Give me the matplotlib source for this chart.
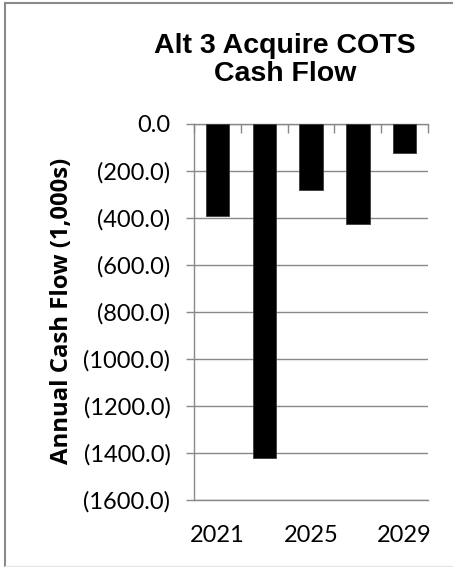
import matplotlib
matplotlib.use("Agg")
import matplotlib.pyplot as plt
from matplotlib.lines import Line2D
import numpy as np

# Data
years = ["2021", "2023", "2025", "2027", "2029"]
cash_flow = [-391.0, -1421.0, -281.0, -425.0, -122.0]
shown_year_labels = ["2021", "", "2025", "", "2029"]
y_ticks = [0, -200, -400, -600, -800, -1000, -1200, -1400, -1600]

W, H = 453, 567
fig = plt.figure(figsize=(W / 100, H / 100), dpi=100)
fig.patch.set_facecolor("white")

grid_col = "#898989"
tick_font = "Lato"

ax = fig.add_axes([194 / W, 1 - 500.3 / H, (428 - 194) / W, (500.3 - 124) / H])
x = np.arange(len(years))
ax.bar(x, cash_flow, width=0.5, color="black", edgecolor="#3a3a3a", linewidth=0.6, zorder=3)

ax.set_xlim(-0.5, len(years) - 0.5)
ax.set_ylim(-1600, 0)

# y axis
ax.set_yticks(y_ticks)
ax.set_yticklabels(["0.0" if v == 0 else f"({abs(v):.1f})" for v in y_ticks],
                   fontfamily=tick_font, fontsize=17, color="black")
ax.yaxis.grid(True, color=grid_col, linewidth=1.0, zorder=0)
ax.tick_params(axis="y", direction="out", length=6, width=1.0, color=grid_col, pad=11)

# x axis: labels under the plot, category-boundary ticks on the zero line
ax.set_xticks(x)
ax.set_xticklabels(shown_year_labels, fontfamily=tick_font, fontsize=17, color="black")
ax.set_xticks(np.arange(-0.5, len(years)), minor=True)
ax.tick_params(axis="x", which="major", bottom=True, top=False, length=0, pad=18)
ax.tick_params(axis="x", which="minor", bottom=False, top=True, direction="in",
               length=6.5, width=1.0, color=grid_col)

for side in ["left", "top", "bottom"]:
    ax.spines[side].set_color(grid_col)
    ax.spines[side].set_linewidth(1.0)
ax.spines["right"].set_visible(False)

# Title and axis label
fig.text(285 / W, 1 - 33 / H, "Alt 3 Acquire COTS\nCash Flow", ha="center", va="top",
         fontfamily="Liberation Sans", fontweight="bold", fontsize=20.5, linespacing=1.12)
fig.text(62 / W, 1 - 311 / H, "Annual Cash Flow (1,000s)", rotation=90, ha="center", va="center",
         fontfamily="Open Sans", fontweight="bold", fontsize=17.2)

# Chart frame
fig.add_artist(Line2D([5 / W, 5 / W], [0, 1 - 3 / H], color="#8a8a8a", linewidth=1.5))
fig.add_artist(Line2D([5 / W, 1], [1 - 3 / H, 1 - 3 / H], color="#8a8a8a", linewidth=1.5))
fig.add_artist(Line2D([5 / W, 1], [1 - 566 / H, 1 - 566 / H], color="#e6e6e6", linewidth=1.0))

fig.savefig("out.png", dpi=100)
